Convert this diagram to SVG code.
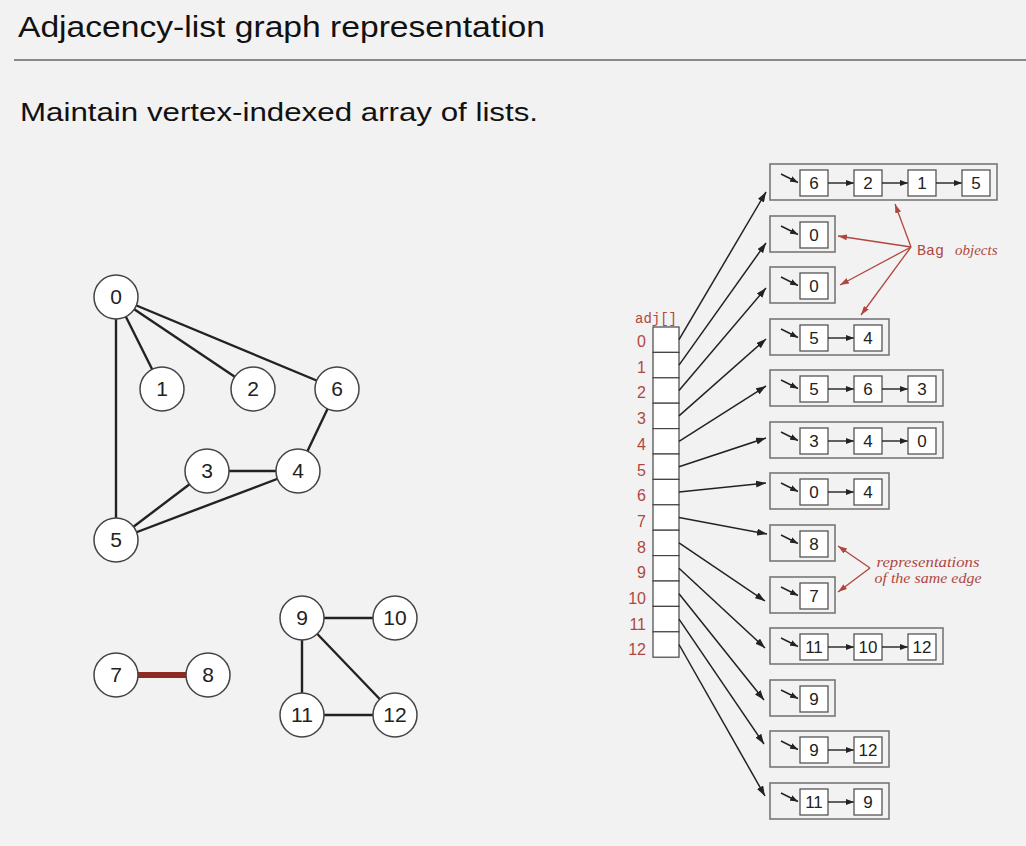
<svg xmlns="http://www.w3.org/2000/svg" width="1026" height="846" viewBox="0 0 1026 846">
<style>
.bg{fill:#f2f2f2}
.title{font-family:"Liberation Sans",Arial,sans-serif;font-size:30px;fill:#111}
.sub{font-family:"Liberation Sans",Arial,sans-serif;font-size:25px;fill:#111}
.v circle{fill:#fff;stroke:#444;stroke-width:1.5}
.v text{font-family:"Liberation Sans",Arial,sans-serif;font-size:21px;fill:#222;text-anchor:middle}
.e{stroke:#222;stroke-width:2.4}
.red{stroke:#8f2a22;stroke-width:6}
.cell{fill:#fff;stroke:#444;stroke-width:1.2}
.idx{font-family:"Liberation Sans",Arial,sans-serif;font-size:16px;fill:#b0473f;text-anchor:end}
.mono{font-family:"Liberation Mono","Courier New",monospace;font-size:14px;fill:#b0473f}
.bagt{font-family:"Liberation Mono","Courier New",monospace;font-size:15px;fill:#b0473f}
.ital{font-family:"Liberation Serif","Times New Roman",serif;font-style:italic;font-size:15px;fill:#b0473f}
.bag{fill:#f2f2f2;stroke:#777;stroke-width:1.6}
.nd{fill:#fff;stroke:#555;stroke-width:1.3}
.nt{font-family:"Liberation Sans",Arial,sans-serif;font-size:17px;fill:#222;text-anchor:middle}
.ptr{stroke:#222;stroke-width:1.4;marker-end:url(#ah)}
.lnk{stroke:#222;stroke-width:1.4;marker-end:url(#ah)}
.adj{stroke:#222;stroke-width:1.5;marker-end:url(#ab)}
.ra{stroke:#b0473f;stroke-width:1.3;marker-end:url(#ar)}
</style>
<defs>
<marker id="ah" markerUnits="userSpaceOnUse" markerWidth="8" markerHeight="6" refX="8" refY="3" orient="auto"><path d="M0,0 L8,3 L0,6 z" fill="#222"/></marker>
<marker id="ab" markerUnits="userSpaceOnUse" markerWidth="10" markerHeight="7" refX="10" refY="3.5" orient="auto"><path d="M0,0 L10,3.5 L0,7 z" fill="#222"/></marker>
<marker id="ar" markerUnits="userSpaceOnUse" markerWidth="9" markerHeight="6" refX="9" refY="3" orient="auto"><path d="M0,0 L9,3 L0,6 z" fill="#b0473f"/></marker>
</defs>
<rect class="bg" x="0" y="0" width="1026" height="846"/>
<text class="title" x="18" y="37" textLength="527" lengthAdjust="spacingAndGlyphs">Adjacency-list graph representation</text>
<line x1="14" y1="60" x2="1026" y2="60" stroke="#666" stroke-width="1.5"/>
<text class="sub" x="20" y="121" textLength="518" lengthAdjust="spacingAndGlyphs">Maintain vertex-indexed array of lists.</text>

<g id="edges">
<line class="e" x1="116" y1="297" x2="162" y2="389"/>
<line class="e" x1="116" y1="297" x2="253" y2="389"/>
<line class="e" x1="116" y1="297" x2="337" y2="389"/>
<line class="e" x1="116" y1="297" x2="116" y2="540"/>
<line class="e" x1="337" y1="389" x2="298" y2="471"/>
<line class="e" x1="207" y1="471" x2="298" y2="471"/>
<line class="e" x1="207" y1="471" x2="116" y2="540"/>
<line class="e" x1="298" y1="471" x2="116" y2="540"/>
<line class="red" x1="116" y1="675" x2="208" y2="675"/>
<line class="e" x1="302" y1="618" x2="395" y2="618"/>
<line class="e" x1="302" y1="618" x2="302" y2="715"/>
<line class="e" x1="302" y1="618" x2="395" y2="715"/>
<line class="e" x1="302" y1="715" x2="395" y2="715"/>
</g>

<g id="v0" class="v"><circle cx="116" cy="297" r="22"/><text x="116" y="304">0</text></g>
<g id="v1" class="v"><circle cx="162" cy="389" r="22"/><text x="162" y="396">1</text></g>
<g id="v2" class="v"><circle cx="253" cy="389" r="22"/><text x="253" y="396">2</text></g>
<g id="v6" class="v"><circle cx="337" cy="389" r="22"/><text x="337" y="396">6</text></g>
<g id="v3" class="v"><circle cx="207" cy="471" r="22"/><text x="207" y="478">3</text></g>
<g id="v4" class="v"><circle cx="298" cy="471" r="22"/><text x="298" y="478">4</text></g>
<g id="v5" class="v"><circle cx="116" cy="540" r="22"/><text x="116" y="547">5</text></g>
<g id="v7" class="v"><circle cx="116" cy="675" r="22"/><text x="116" y="682">7</text></g>
<g id="v8" class="v"><circle cx="208" cy="675" r="22"/><text x="208" y="682">8</text></g>
<g id="v9" class="v"><circle cx="302" cy="618" r="22"/><text x="302" y="625">9</text></g>
<g id="v10" class="v"><circle cx="395" cy="618" r="22"/><text x="395" y="625">10</text></g>
<g id="v11" class="v"><circle cx="302" cy="715" r="22"/><text x="302" y="722">11</text></g>
<g id="v12" class="v"><circle cx="395" cy="715" r="22"/><text x="395" y="722">12</text></g>

<g id="adj-array">
<text class="mono" x="635" y="323">adj[]</text>
<rect class="cell" x="653" y="327" width="26" height="25.4"/>
<rect class="cell" x="653" y="352.4" width="26" height="25.4"/>
<rect class="cell" x="653" y="377.8" width="26" height="25.4"/>
<rect class="cell" x="653" y="403.2" width="26" height="25.4"/>
<rect class="cell" x="653" y="428.6" width="26" height="25.4"/>
<rect class="cell" x="653" y="454" width="26" height="25.4"/>
<rect class="cell" x="653" y="479.4" width="26" height="25.4"/>
<rect class="cell" x="653" y="504.8" width="26" height="25.4"/>
<rect class="cell" x="653" y="530.2" width="26" height="25.4"/>
<rect class="cell" x="653" y="555.6" width="26" height="25.4"/>
<rect class="cell" x="653" y="581" width="26" height="25.4"/>
<rect class="cell" x="653" y="606.4" width="26" height="25.4"/>
<rect class="cell" x="653" y="631.8" width="26" height="25.4"/>
<text class="idx" x="646" y="347">0</text>
<text class="idx" x="646" y="373">1</text>
<text class="idx" x="646" y="398">2</text>
<text class="idx" x="646" y="424">3</text>
<text class="idx" x="646" y="450">4</text>
<text class="idx" x="646" y="476">5</text>
<text class="idx" x="646" y="501">6</text>
<text class="idx" x="646" y="527">7</text>
<text class="idx" x="646" y="553">8</text>
<text class="idx" x="646" y="578">9</text>
<text class="idx" x="646" y="604">10</text>
<text class="idx" x="646" y="630">11</text>
<text class="idx" x="646" y="655">12</text>
</g>

<g id="connectors">
<line class="adj" x1="679" y1="339.7" x2="766" y2="192"/>
<line class="adj" x1="679" y1="365.1" x2="766" y2="243"/>
<line class="adj" x1="679" y1="390.5" x2="766" y2="288"/>
<line class="adj" x1="679" y1="415.9" x2="766" y2="339"/>
<line class="adj" x1="679" y1="441.3" x2="766" y2="386"/>
<line class="adj" x1="679" y1="466.7" x2="766" y2="438"/>
<line class="adj" x1="679" y1="492.1" x2="766" y2="483"/>
<line class="adj" x1="679" y1="517.5" x2="767" y2="534"/>
<line class="adj" x1="679" y1="542.9" x2="765" y2="601"/>
<line class="adj" x1="679" y1="568.3" x2="765" y2="648"/>
<line class="adj" x1="679" y1="593.7" x2="764" y2="700"/>
<line class="adj" x1="679" y1="619.1" x2="764" y2="744"/>
<line class="adj" x1="679" y1="644.5" x2="765" y2="796"/>
<line class="ra" x1="911" y1="247" x2="895" y2="204"/>
<line class="ra" x1="911" y1="247" x2="838" y2="236"/>
<line class="ra" x1="911" y1="247" x2="840" y2="285"/>
<line class="ra" x1="911" y1="247" x2="861" y2="315"/>
<line class="ra" x1="870" y1="568" x2="838" y2="546"/>
<line class="ra" x1="870" y1="568" x2="838" y2="592"/>
</g>

<g id="bag0"><rect class="bag" x="770" y="164" width="227" height="36"/>
<line class="ptr" x1="781" y1="174" x2="798" y2="182.5"/>
<rect class="nd" x="800" y="170" width="28" height="26"/><text class="nt" x="814" y="189">6</text>
<line class="lnk" x1="828" y1="183" x2="854" y2="183"/>
<rect class="nd" x="854" y="170" width="28" height="26"/><text class="nt" x="868" y="189">2</text>
<line class="lnk" x1="882" y1="183" x2="908" y2="183"/>
<rect class="nd" x="908" y="170" width="28" height="26"/><text class="nt" x="922" y="189">1</text>
<line class="lnk" x1="936" y1="183" x2="962" y2="183"/>
<rect class="nd" x="962" y="170" width="28" height="26"/><text class="nt" x="976" y="189">5</text></g>

<g id="bag1"><rect class="bag" x="770" y="216" width="65" height="36"/>
<line class="ptr" x1="781" y1="226" x2="798" y2="234.5"/>
<rect class="nd" x="800" y="222" width="28" height="26"/><text class="nt" x="814" y="241">0</text></g>

<g id="bag2"><rect class="bag" x="770" y="267" width="65" height="36"/>
<line class="ptr" x1="781" y1="277" x2="798" y2="285.5"/>
<rect class="nd" x="800" y="273" width="28" height="26"/><text class="nt" x="814" y="292">0</text></g>

<g id="bag3"><rect class="bag" x="770" y="319" width="119" height="36"/>
<line class="ptr" x1="781" y1="329" x2="798" y2="337.5"/>
<rect class="nd" x="800" y="325" width="28" height="26"/><text class="nt" x="814" y="344">5</text>
<line class="lnk" x1="828" y1="338" x2="854" y2="338"/>
<rect class="nd" x="854" y="325" width="28" height="26"/><text class="nt" x="868" y="344">4</text></g>

<g id="bag4"><rect class="bag" x="770" y="370" width="173" height="36"/>
<line class="ptr" x1="781" y1="380" x2="798" y2="388.5"/>
<rect class="nd" x="800" y="376" width="28" height="26"/><text class="nt" x="814" y="395">5</text>
<line class="lnk" x1="828" y1="389" x2="854" y2="389"/>
<rect class="nd" x="854" y="376" width="28" height="26"/><text class="nt" x="868" y="395">6</text>
<line class="lnk" x1="882" y1="389" x2="908" y2="389"/>
<rect class="nd" x="908" y="376" width="28" height="26"/><text class="nt" x="922" y="395">3</text></g>

<g id="bag5"><rect class="bag" x="770" y="422" width="173" height="36"/>
<line class="ptr" x1="781" y1="432" x2="798" y2="440.5"/>
<rect class="nd" x="800" y="428" width="28" height="26"/><text class="nt" x="814" y="447">3</text>
<line class="lnk" x1="828" y1="441" x2="854" y2="441"/>
<rect class="nd" x="854" y="428" width="28" height="26"/><text class="nt" x="868" y="447">4</text>
<line class="lnk" x1="882" y1="441" x2="908" y2="441"/>
<rect class="nd" x="908" y="428" width="28" height="26"/><text class="nt" x="922" y="447">0</text></g>

<g id="bag6"><rect class="bag" x="770" y="473" width="119" height="36"/>
<line class="ptr" x1="781" y1="483" x2="798" y2="491.5"/>
<rect class="nd" x="800" y="479" width="28" height="26"/><text class="nt" x="814" y="498">0</text>
<line class="lnk" x1="828" y1="492" x2="854" y2="492"/>
<rect class="nd" x="854" y="479" width="28" height="26"/><text class="nt" x="868" y="498">4</text></g>

<g id="bag7"><rect class="bag" x="770" y="525" width="65" height="36"/>
<line class="ptr" x1="781" y1="535" x2="798" y2="543.5"/>
<rect class="nd" x="800" y="531" width="28" height="26"/><text class="nt" x="814" y="550">8</text></g>

<g id="bag8"><rect class="bag" x="770" y="577" width="65" height="36"/>
<line class="ptr" x1="781" y1="587" x2="798" y2="595.5"/>
<rect class="nd" x="800" y="583" width="28" height="26"/><text class="nt" x="814" y="602">7</text></g>

<g id="bag9"><rect class="bag" x="770" y="628" width="173" height="36"/>
<line class="ptr" x1="781" y1="638" x2="798" y2="646.5"/>
<rect class="nd" x="800" y="634" width="28" height="26"/><text class="nt" x="814" y="653">11</text>
<line class="lnk" x1="828" y1="647" x2="854" y2="647"/>
<rect class="nd" x="854" y="634" width="28" height="26"/><text class="nt" x="868" y="653">10</text>
<line class="lnk" x1="882" y1="647" x2="908" y2="647"/>
<rect class="nd" x="908" y="634" width="28" height="26"/><text class="nt" x="922" y="653">12</text></g>

<g id="bag10"><rect class="bag" x="770" y="680" width="65" height="36"/>
<line class="ptr" x1="781" y1="690" x2="798" y2="698.5"/>
<rect class="nd" x="800" y="686" width="28" height="26"/><text class="nt" x="814" y="705">9</text></g>

<g id="bag11"><rect class="bag" x="770" y="731" width="119" height="36"/>
<line class="ptr" x1="781" y1="741" x2="798" y2="749.5"/>
<rect class="nd" x="800" y="737" width="28" height="26"/><text class="nt" x="814" y="756">9</text>
<line class="lnk" x1="828" y1="750" x2="854" y2="750"/>
<rect class="nd" x="854" y="737" width="28" height="26"/><text class="nt" x="868" y="756">12</text></g>

<g id="bag12"><rect class="bag" x="770" y="783" width="119" height="36"/>
<line class="ptr" x1="781" y1="793" x2="798" y2="801.5"/>
<rect class="nd" x="800" y="789" width="28" height="26"/><text class="nt" x="814" y="808">11</text>
<line class="lnk" x1="828" y1="802" x2="854" y2="802"/>
<rect class="nd" x="854" y="789" width="28" height="26"/><text class="nt" x="868" y="808">9</text></g>

<g id="label-bag">
<text class="bagt" x="917" y="255">Bag</text>
<text class="ital" x="955" y="255">objects</text>
</g>
<g id="label-same-edge">
<text class="ital" x="928" y="567" text-anchor="middle" textLength="103" lengthAdjust="spacingAndGlyphs">representations</text>
<text class="ital" x="928" y="583" text-anchor="middle" textLength="107" lengthAdjust="spacingAndGlyphs">of the same edge</text>
</g>
</svg>
